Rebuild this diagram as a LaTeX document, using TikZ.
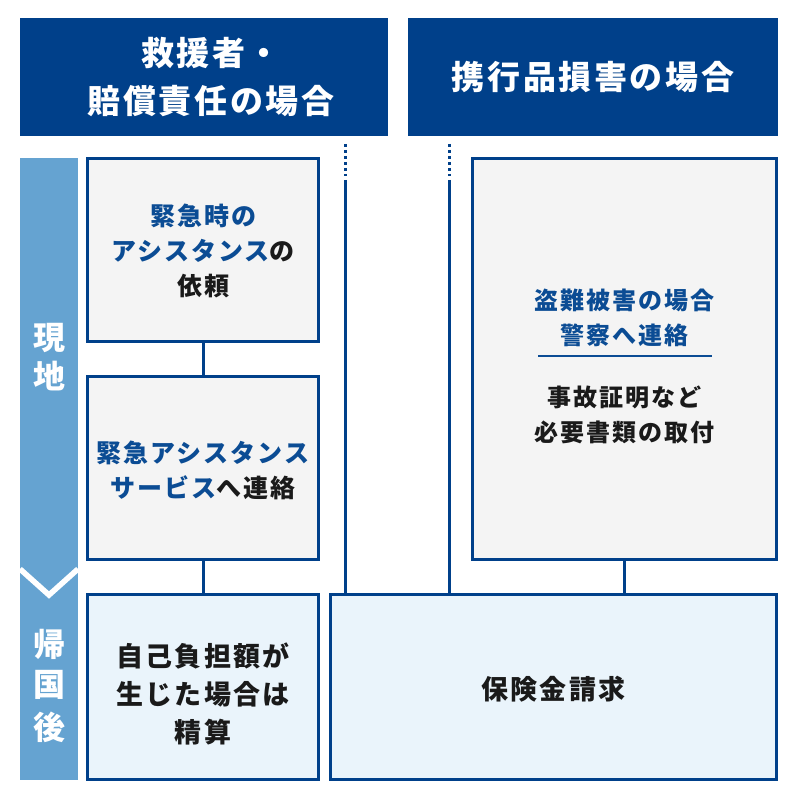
\documentclass[tikz,border=0pt]{standalone}
\usepackage{fontspec}
\setmainfont{Noto Sans CJK JP}
\definecolor{navy}{HTML}{00408A}
\definecolor{bluetxt}{HTML}{0B4C94}
\definecolor{barblue}{HTML}{65A3D1}
\definecolor{boxgray}{HTML}{F4F4F4}
\definecolor{boxlight}{HTML}{EAF4FB}
\definecolor{txt}{HTML}{1A1A1A}
\tikzset{
  x=1pt,y=-1pt,
  header/.style={fill=navy,draw=none,inner sep=0pt},
  headtext/.style={inner sep=0pt,text=white,align=center,
    font=\bfseries\fontsize{33}{48}\selectfont\addfontfeature{LetterSpace=8}},
  graybox/.style={draw=navy,line width=3pt,fill=boxgray,inner sep=0pt},
  lightbox/.style={draw=navy,line width=3pt,fill=boxlight,inner sep=0pt},
  boxtext/.style={inner sep=0pt,align=center,text=txt,
    font=\bfseries\fontsize{24}{35}\selectfont\addfontfeature{LetterSpace=9}},
  midtext/.style={inner sep=0pt,align=center,text=txt,
    font=\bfseries\fontsize{25}{35}\selectfont\addfontfeature{LetterSpace=8}},
  bigtext/.style={inner sep=0pt,align=center,text=txt,
    font=\bfseries\fontsize{27}{38}\selectfont\addfontfeature{LetterSpace=8}},
  bartext/.style={inner sep=0pt,text=white,font=\bfseries\fontsize{32}{38}\selectfont},
  conn/.style={draw=navy,line width=3pt},
  dotconn/.style={draw=navy,line width=3pt,dash pattern=on 3pt off 3pt},
}
\begin{document}
\begin{tikzpicture}
\useasboundingbox (0,0) rectangle (800,805);
% headers
\node[header,minimum width=368pt,minimum height=118pt] (h1) at (204,77) {};
\node[header,minimum width=370pt,minimum height=118pt] (h2) at (593,77) {};
\node[headtext] (h1t) at (211,77) {救援者・\\賠償責任の場合};
\node[headtext] (h2t) at (593,77) {携行品損害の場合};
% left bar
\node[fill=barblue,draw=none,inner sep=0pt,minimum width=58pt,minimum height=622pt] (bar) at (49,469) {};
\draw[white,line width=5.5pt] (20,569) -- (49,595) -- (78,569);
\node[bartext] (gen) at (49,338) {現};
\node[bartext] (chi) at (49,376) {地};
\node[bartext] (ki) at (49,644) {帰};
\node[bartext] (koku) at (49,685) {国};
\node[bartext] (go) at (49,727) {後};
% vertical lines
\coordinate (d1) at (345,144);
\coordinate (d1e) at (345,176);
\coordinate (s1) at (345,180);
\coordinate (d2) at (449,144);
\coordinate (d2e) at (449,176);
\coordinate (s2) at (449,180);
% boxes
\node[graybox,minimum width=231pt,minimum height=183pt] (b1) at (203,250) {};
\node[graybox,minimum width=231pt,minimum height=183pt] (b2) at (203,468) {};
\node[lightbox,minimum width=231pt,minimum height=185pt] (b3) at (203,687) {};
\node[graybox,minimum width=304pt,minimum height=401pt] (b4) at (624.5,359) {};
\node[lightbox,minimum width=446pt,minimum height=185pt] (b5) at (553.5,687) {};
% connectors
\draw[conn] (b1.south) -- (b2.north);
\draw[conn] (b2.south) -- (b3.north);
\draw[conn] (b4.south) -- (b4.south |- b5.north);
\draw[dotconn] (d1) -- (d1e);
\draw[conn] (s1) -- (s1 |- b5.north);
\draw[dotconn] (d2) -- (d2e);
\draw[conn] (s2) -- (s2 |- b5.north);
% texts
\node[midtext] (t1) at (203,251) {\textcolor{bluetxt}{緊急時の}\\\textcolor{bluetxt}{アシスタンス}の\\依頼};
\node[midtext] (t2) at (203,470) {\textcolor{bluetxt}{緊急アシスタンス}\\\textcolor{bluetxt}{サービス}へ連絡};
\node[boxtext,text=bluetxt] (t4a) at (624.5,318) {盗難被害の場合\\警察へ連絡};
\coordinate (ul1) at (538,356);
\coordinate (ul2) at (712,356);
\draw[draw=bluetxt,line width=2pt] (ul1) -- (ul2);
\node[boxtext] (t4b) at (624.5,415) {事故証明など\\必要書類の取付};
\node[bigtext] (t3) at (203,694) {自己負担額が\\生じた場合は\\精算};
\node[bigtext] (t5) at (553.5,689) {保険金請求};
\end{tikzpicture}
\end{document}
